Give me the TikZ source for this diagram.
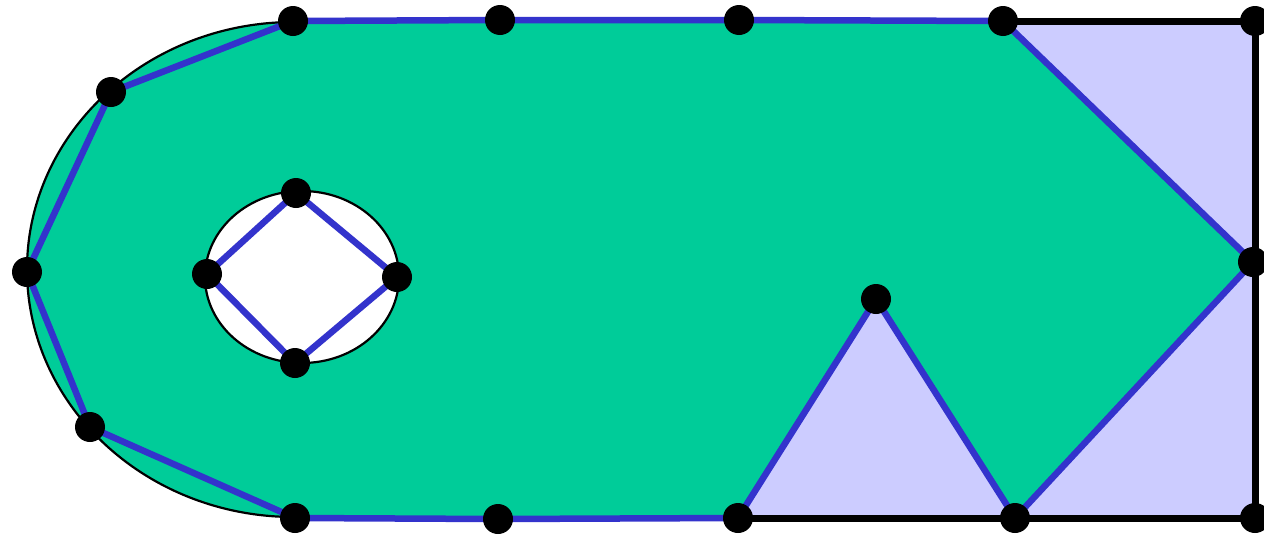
\documentclass[tikz,border=0pt]{standalone}
\begin{document}
\begin{tikzpicture}[x=1pt,y=-1pt,line join=round,
  dot/.style={circle,fill=black,minimum size=30pt,inner sep=0pt},
  edge/.style={draw=blueline,line width=6.5pt},
  frame/.style={draw=black,line width=7pt},
  thin/.style={draw=black,line width=2.2pt}]
\definecolor{greenfill}{RGB}{0,204,153}
\definecolor{lav}{RGB}{204,204,255}
\definecolor{blueline}{RGB}{51,51,204}
\useasboundingbox (0,0) rectangle (1264,536);
% points
\coordinate (t1) at (293,21);
\coordinate (t2) at (500,20);
\coordinate (t3) at (739,20);
\coordinate (t4) at (1003,21);
\coordinate (t5) at (1255,21);
\coordinate (r1) at (1253,262);
\coordinate (b5) at (1255,518);
\coordinate (b4) at (1015,518);
\coordinate (pk) at (876,299);
\coordinate (b3) at (738,518);
\coordinate (b2) at (498,519);
\coordinate (b1) at (295,518);
\coordinate (l3) at (90,427);
\coordinate (l2) at (27,272);
\coordinate (l1) at (111,92);
\coordinate (hc) at (302,277);
\coordinate (h1) at (296,193);
\coordinate (h2) at (397,277);
\coordinate (h3) at (295,363);
\coordinate (h4) at (207,274);
% lavender background
\fill[lav] (b3) rectangle (t5);
% green region
\fill[greenfill] (294,22) arc[start angle=90,end angle=270,x radius=267pt,y radius=247.5pt]
  -- (b3) -- (pk) -- (b4) -- (r1) -- (t4) -- cycle;
% frame
\draw[frame] (t4) -- (t5) -- (b5) -- (b3);
% outer arc
\draw[thin] (294,22) arc[start angle=90,end angle=270,x radius=267pt,y radius=247.5pt];
% hole
\draw[thin,fill=white] (hc) ellipse[x radius=97pt,y radius=86pt];
% blue polygon
\draw[edge] (t1) -- (t2) -- (t3) -- (t4) -- (r1) -- (b4) -- (pk) -- (b3) -- (b2) -- (b1) -- (l3) -- (l2) -- (l1) -- cycle;
\draw[edge] (h1) -- (h2) -- (h3) -- (h4) -- cycle;
% dots
\foreach \p in {t1,t2,t3,t4,t5,r1,b5,b4,pk,b3,b2,b1,l3,l2,l1,h1,h2,h3,h4}
  \node[dot] (d\p) at (\p) {};
\end{tikzpicture}
\end{document}
